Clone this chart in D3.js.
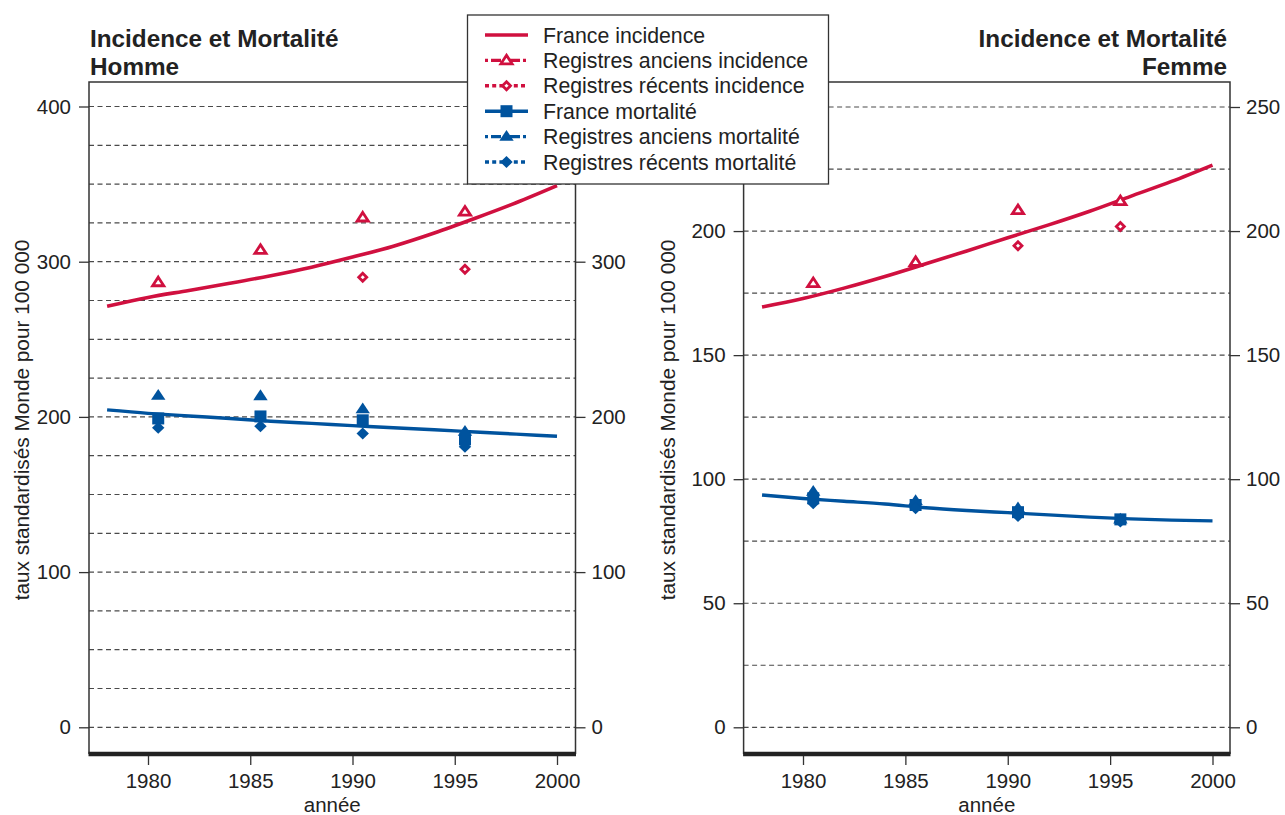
<!DOCTYPE html>
<html><head><meta charset="utf-8">
<script src="https://cdn.jsdelivr.net/npm/d3@7"></script>
<style>
body{margin:0;background:#fff;}
svg{display:block;font-family:"Liberation Sans",Arial,Helvetica,sans-serif;}
</style></head><body>
<svg id="chart" width="1285" height="815"></svg>
<script>
// ---------- DATA ----------
const curveYears  = [1978,1980,1982,1984,1986,1988,1990,1992,1994,1996,1998,2000];
const markerYears = [1980.5,1985.5,1990.5,1995.5];
const xTickValues = [1980,1985,1990,1995,2000];

// Homme
const hommeFranceIncidence   = [271.3,277,281.5,286.1,291,296.5,303,310,318.5,328,338,349];
const hommeFranceMortCurve   = [204.5,202.3,200.6,199,197.2,195.8,194.4,193,191.7,190.3,188.9,187.5];
const hommeAnciensIncidence  = [286.7,307.5,328.4,332.2];
const hommeRecentsIncidence  = [null,null,290,295.1];
const hommeFranceMortalite   = [199,200.3,197.8,185.5];
const hommeAnciensMortalite  = [213.7,213.5,205.1,190.5];
const hommeRecentsMortalite  = [193,194,189.3,180.8];
const hommeYTicksLeft  = [0,100,200,300,400];
const hommeYTicksRight = [0,100,200,300];      // 400 hidden by the legend
const hommeGrid   = d3.range(0,401,25);

// Femme
const femmeFranceIncidence   = [169.4,172.8,177,181.7,186.8,192,197.3,202.5,208,214,220,226.6];
const femmeFranceMortCurve   = [93.6,92.2,91.1,90,88.5,87.4,86.5,85.6,84.7,84,83.5,83.2];
const femmeAnciensIncidence  = [179,187.5,208.4,212];
const femmeRecentsIncidence  = [null,null,194.1,201.8];
const femmeFranceMortalite   = [92.3,89.6,86.7,83.8];
const femmeAnciensMortalite  = [95,91.3,88.3,83.8];
const femmeRecentsMortalite  = [90.3,88.3,85.2,82.9];
const femmeYTicksLeft  = [0,50,100,150,200];   // 250 hidden by the legend
const femmeYTicksRight = [0,50,100,150,200,250];
const femmeGrid   = d3.range(0,251,25);

const legendLabels = ["France incidence","Registres anciens incidence","Registres récents incidence",
                      "France mortalité","Registres anciens mortalité","Registres récents mortalité"];

// ---------- STYLE ----------
const RED = "#d0103f", BLUE = "#00539e", INK = "#222";
const FS = 20.5;
const svg = d3.select("#chart");

// marker paths
const triPath  = "M0,-5.2 L5.6,3.4 L-5.6,3.4 Z";
const triFill  = "M0,-6.6 L7.2,4.2 L-7.2,4.2 Z";
const diaPath  = "M0,-4 L4,0 L0,4 L-4,0 Z";
const diaFill  = "M0,-6 L6.2,0 L0,6 L-6.2,0 Z";
const sqFill   = "M-6,-6 L6,-6 L6,6 L-6,6 Z";

function drawPanel(cfg){
  const g = svg.append("g");
  const x = d3.scaleLinear().domain([1980,2000]).range(cfg.xr);
  const y = d3.scaleLinear().domain(cfg.yd).range([727.3, cfg.yTopPx]);
  const [L,R] = cfg.frame;
  const T = 82, B = 754;

  // grid
  g.append("g").selectAll("line").data(cfg.grid).join("line")
    .attr("x1",L).attr("x2",R).attr("y1",d=>y(d)).attr("y2",d=>y(d))
    .attr("stroke","#4a4a4a").attr("stroke-width",1.2).attr("stroke-dasharray","5,3.5");

  // frame
  g.append("path").attr("d",`M${L},${B} L${L},${T} L${R},${T} L${R},${B}`)
    .attr("fill","none").attr("stroke","#333").attr("stroke-width",1.5);
  g.append("line").attr("x1",L-0.5).attr("x2",R+0.5).attr("y1",B).attr("y2",B)
    .attr("stroke",INK).attr("stroke-width",4.5);

  // axes
  const styleAxis = sel => {
    sel.select(".domain").remove();
    sel.selectAll("line").attr("stroke","#333").attr("stroke-width",1.3);
    sel.selectAll("text").attr("font-size",FS).attr("fill",INK).attr("font-family",null);
  };
  g.append("g").attr("transform",`translate(${L},0)`)
    .call(d3.axisLeft(y).tickValues(cfg.ticksL).tickSize(10).tickPadding(8).tickFormat(d3.format("d")))
    .call(styleAxis);
  g.append("g").attr("transform",`translate(${R},0)`)
    .call(d3.axisRight(y).tickValues(cfg.ticksR).tickSize(10).tickPadding(6).tickFormat(d3.format("d")))
    .call(styleAxis);
  g.append("g").attr("transform",`translate(0,${B+2})`)
    .call(d3.axisBottom(x).tickValues(xTickValues).tickSize(9).tickPadding(8).tickFormat(d3.format("d")))
    .call(styleAxis);

  // axis titles
  g.append("text").attr("x",(L+R)/2).attr("y",812).attr("text-anchor","middle")
    .attr("font-size",FS).attr("fill",INK).text("année");
  g.append("text").attr("transform",`translate(${cfg.ytitleX},420) rotate(-90)`)
    .attr("text-anchor","middle").attr("dy","0.35em")
    .attr("font-size",20.8).attr("fill",INK).text("taux standardisés Monde pour 100 000");

  // title
  const tt = g.append("text").attr("font-size",24.3).attr("font-weight","bold").attr("fill",INK)
    .attr("text-anchor",cfg.titleAnchor);
  tt.append("tspan").attr("x",cfg.titleX).attr("y",47).text("Incidence et Mortalité");
  tt.append("tspan").attr("x",cfg.titleX).attr("y",74.5).text(cfg.sex);

  // curves
  const line = d3.line().x((d,i)=>x(curveYears[i])).y(d=>y(d)).curve(d3.curveMonotoneX);
  g.append("path").attr("d",line(cfg.incCurve)).attr("fill","none")
    .attr("stroke",RED).attr("stroke-width",3.6).attr("stroke-linecap","butt");
  g.append("path").attr("d",line(cfg.mortCurve)).attr("fill","none")
    .attr("stroke",BLUE).attr("stroke-width",3.4).attr("stroke-linecap","butt");

  // markers
  const pts = arr => arr.map((v,i)=>({x:markerYears[i],v})).filter(d=>d.v!=null);
  const mk = (arr,path,fill,stroke,sw) =>
    g.append("g").selectAll("path").data(pts(arr)).join("path")
      .attr("transform",d=>`translate(${x(d.x)},${y(d.v)})`)
      .attr("d",path).attr("fill",fill).attr("stroke",stroke).attr("stroke-width",sw)
      .attr("stroke-linejoin","miter");
  mk(cfg.mortFr, sqFill, BLUE, "none", 0);
  mk(cfg.mortAnc, triFill, BLUE, "none", 0);
  mk(cfg.mortRec, diaFill, BLUE, "none", 0);
  mk(cfg.incAnc, triPath, "#fff", RED, 2.8);
  mk(cfg.incRec, diaPath, "#fff", RED, 2.8);
}

drawPanel({sex:"Homme", xr:[148,557], frame:[89,575.5], yd:[0,400], yTopPx:106.5,
  ticksL:hommeYTicksLeft, ticksR:hommeYTicksRight, grid:hommeGrid, ytitleX:22, titleX:90, titleAnchor:"start",
  incCurve:hommeFranceIncidence, mortCurve:hommeFranceMortCurve,
  incAnc:hommeAnciensIncidence, incRec:hommeRecentsIncidence,
  mortFr:hommeFranceMortalite, mortAnc:hommeAnciensMortalite, mortRec:hommeRecentsMortalite});

drawPanel({sex:"Femme", xr:[803,1212.5], frame:[743.6,1230], yd:[0,250], yTopPx:107,
  ticksL:femmeYTicksLeft, ticksR:femmeYTicksRight, grid:femmeGrid, ytitleX:668, titleX:1227, titleAnchor:"end",
  incCurve:femmeFranceIncidence, mortCurve:femmeFranceMortCurve,
  incAnc:femmeAnciensIncidence, incRec:femmeRecentsIncidence,
  mortFr:femmeFranceMortalite, mortAnc:femmeAnciensMortalite, mortRec:femmeRecentsMortalite});

// ---------- LEGEND ----------
const lg = svg.append("g");
lg.append("rect").attr("x",467.5).attr("y",15).attr("width",361).attr("height",169)
  .attr("fill","#fff").attr("stroke","#333").attr("stroke-width",1.3);
const legendItems = legendLabels.map((label,i)=>({
  label,
  color: i<3?RED:BLUE,
  dash: [null,"3,3,10,3","4,3.2",null,"3,3,10,3","4,3.2"][i],
  marker: [null,triPath,diaPath,sqFill,triFill,diaFill][i],
  hollow: i===1||i===2
}));
const ly = d3.scalePoint().domain(d3.range(6)).range([35,162]);
const items = lg.selectAll("g.it").data(legendItems).join("g").attr("class","it")
  .attr("transform",(d,i)=>`translate(0,${ly(i)})`);
items.append("line").attr("x1",485).attr("x2",528).attr("y1",0).attr("y2",0)
  .attr("stroke",d=>d.color).attr("stroke-width",3.4)
  .attr("stroke-dasharray",d=>d.dash);
items.filter(d=>d.marker).append("path").attr("transform","translate(506.5,0)")
  .attr("d",d=>d.marker).attr("fill",d=>d.hollow?"#fff":d.color)
  .attr("stroke",d=>d.hollow?d.color:"none").attr("stroke-width",d=>d.hollow?2.8:0);
items.append("text").attr("x",543).attr("dy","0.36em").attr("font-size",21.3)
  .attr("fill",INK).text(d=>d.label);
</script>
</body></html>
